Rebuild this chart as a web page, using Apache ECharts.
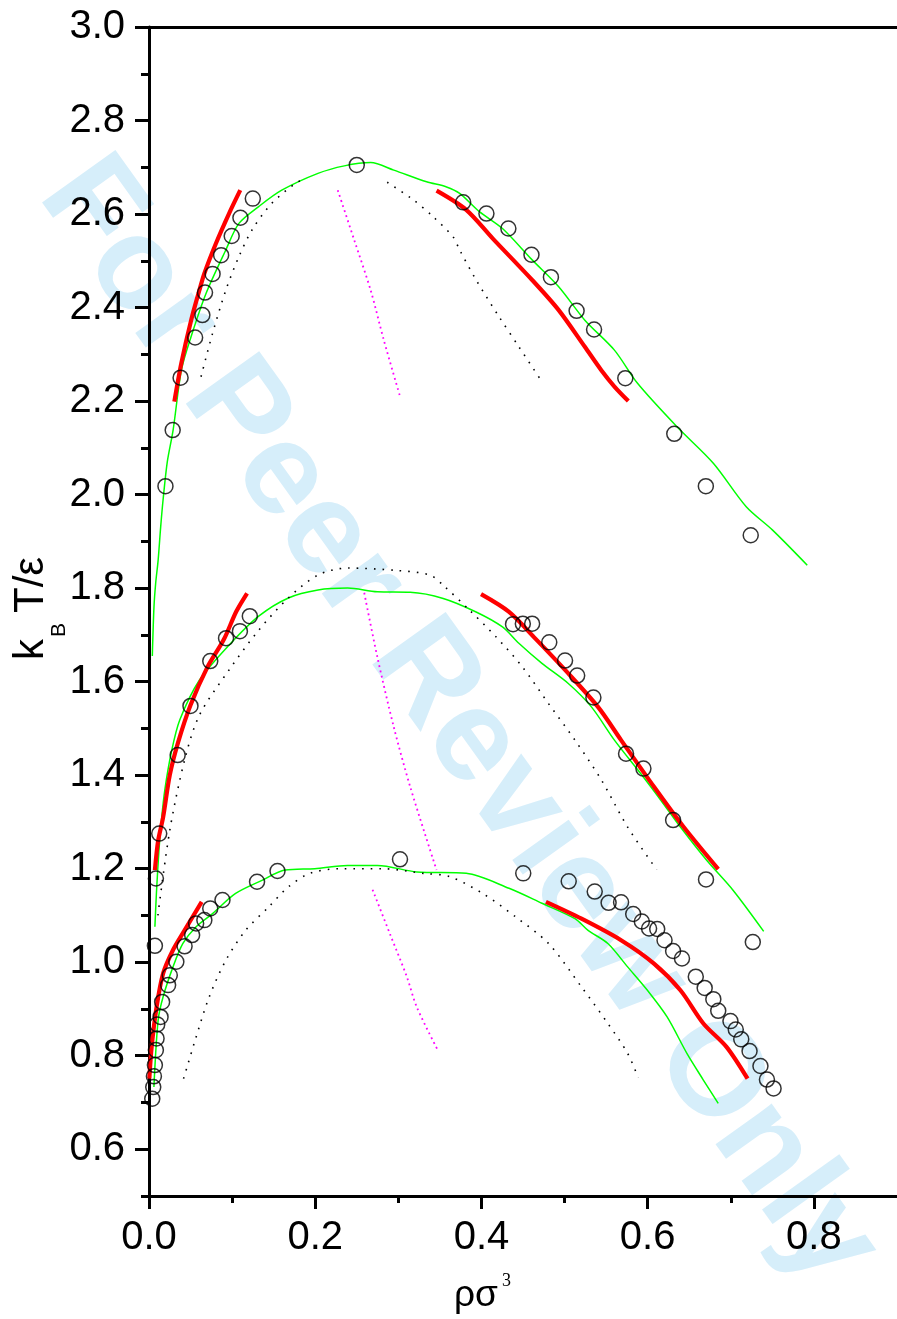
<!DOCTYPE html>
<html><head><meta charset="utf-8">
<script src="https://cdn.jsdelivr.net/npm/echarts@6/dist/echarts.min.js"></script>
<style>html,body{margin:0;padding:0;background:#fff}#c{width:897px;height:1319px}</style>
</head><body><div id="c"></div>
<script>
const xMajor = [0, 0.2, 0.4, 0.6, 0.8];
const xMinor = [0.1, 0.3, 0.5, 0.7];
const yMajor = [0.6, 0.8, 1.0, 1.2, 1.4, 1.6, 1.8, 2.0, 2.2, 2.4, 2.6, 2.8, 3.0];
const yMinor = [0.5, 0.7, 0.9, 1.1, 1.3, 1.5, 1.7, 1.9, 2.1, 2.3, 2.5, 2.7, 2.9];

const circlesTop = [[0.0198,2.018],[0.0285,2.138],[0.038,2.25],[0.0555,2.336],[0.0642,2.384],[0.0674,2.432],[0.0765,2.472],[0.0868,2.512],[0.0995,2.553],[0.110,2.592],[0.1249,2.633],[0.250,2.705],[0.378,2.625],[0.406,2.601],[0.4324,2.569],[0.4602,2.513],[0.4836,2.465],[0.5145,2.393],[0.5355,2.353],[0.5731,2.249],[0.632,2.13],[0.670,2.018],[0.724,1.913]];
const circlesMid = [[0.0083,1.179],[0.0123,1.275],[0.0345,1.443],[0.0499,1.548],[0.0737,1.644],[0.0927,1.693],[0.1094,1.708],[0.1213,1.74],[0.438,1.723],[0.4498,1.724],[0.461,1.724],[0.4816,1.684],[0.5006,1.645],[0.5152,1.613],[0.5347,1.566],[0.574,1.446],[0.5949,1.414],[0.6306,1.304],[0.6702,1.177],[0.7265,1.043]];
const circlesBot = [[0.0039,0.708],[0.0051,0.733],[0.0059,0.756],[0.0071,0.78],[0.0083,0.812],[0.0091,0.837],[0.0099,0.867],[0.0139,0.883],[0.0158,0.915],[0.023,0.951],[0.025,0.972],[0.0329,1.001],[0.0428,1.034],[0.0519,1.058],[0.0567,1.083],[0.0666,1.09],[0.0737,1.115],[0.0884,1.133],[0.13,1.172],[0.1546,1.195],[0.0071,1.035],[0.302,1.22],[0.4503,1.19],[0.505,1.173],[0.5363,1.151],[0.553,1.127],[0.568,1.128],[0.5826,1.103],[0.593,1.087],[0.6017,1.072],[0.6115,1.071],[0.6203,1.047],[0.6306,1.024],[0.6413,1.008],[0.6579,0.969],[0.6686,0.945],[0.679,0.921],[0.6849,0.896],[0.6996,0.874],[0.706,0.856],[0.7126,0.835],[0.7226,0.81],[0.7357,0.778],[0.7435,0.749],[0.7515,0.73]];

const redTopL = [[0.0305,2.199],[0.0389,2.281],[0.0507,2.373],[0.0606,2.437],[0.0666,2.473],[0.0805,2.537],[0.0963,2.601],[0.1098,2.651]];
const redTopR = [[0.346,2.65],[0.3817,2.609],[0.4134,2.548],[0.461,2.459],[0.4927,2.395],[0.5244,2.316],[0.5442,2.266],[0.56,2.231],[0.5767,2.2]];
const redMidL = [[0.0071,1.197],[0.011,1.26],[0.017,1.31],[0.025,1.40],[0.035,1.47],[0.05,1.55],[0.07,1.63],[0.09,1.69],[0.105,1.75],[0.118,1.789]];
const redMidR = [[0.3995,1.787],[0.4332,1.749],[0.4649,1.692],[0.5006,1.625],[0.5402,1.546],[0.568,1.475],[0.6076,1.375],[0.6433,1.289],[0.6849,1.199]];
const redBotL = [[0.0004,0.751],[0.0032,0.819],[0.0091,0.904],[0.017,0.976],[0.0289,1.026],[0.0428,1.068],[0.0634,1.129]];
const redBotR = [[0.4776,1.129],[0.5204,1.093],[0.568,1.047],[0.6076,0.997],[0.6394,0.94],[0.667,0.869],[0.6948,0.819],[0.7202,0.751]];

const greenTop = [[0.004,1.655],[0.006,1.76],[0.008,1.81],[0.011,1.86],[0.014,1.93],[0.017,1.99],[0.022,2.07],[0.029,2.138],[0.039,2.266],[0.0507,2.338],[0.0686,2.43],[0.0924,2.523],[0.1082,2.58],[0.132,2.616],[0.1597,2.651],[0.2033,2.687],[0.235,2.703],[0.2667,2.71],[0.2945,2.694],[0.334,2.669],[0.358,2.658],[0.3738,2.644],[0.3975,2.605],[0.4253,2.569],[0.461,2.502],[0.4927,2.445],[0.5244,2.373],[0.56,2.309],[0.5878,2.238],[0.6353,2.145],[0.679,2.067],[0.7186,1.974],[0.7503,1.924],[0.792,1.849]];
const greenMid = [[0.0071,1.076],[0.009,1.15],[0.012,1.24],[0.015,1.304],[0.019,1.368],[0.027,1.45],[0.037,1.518],[0.0606,1.603],[0.0963,1.678],[0.132,1.74],[0.1677,1.779],[0.2033,1.796],[0.239,1.80],[0.2747,1.792],[0.3143,1.791],[0.354,1.778],[0.3936,1.749],[0.4253,1.717],[0.445,1.682],[0.4728,1.639],[0.5045,1.596],[0.5323,1.546],[0.56,1.475],[0.5918,1.403],[0.6156,1.347],[0.6394,1.289],[0.671,1.218],[0.7027,1.154],[0.7396,1.066]];
const greenBot = [[0.0059,0.733],[0.011,0.876],[0.017,0.926],[0.0289,0.99],[0.0408,1.04],[0.0567,1.076],[0.0765,1.104],[0.1042,1.147],[0.1359,1.175],[0.1637,1.197],[0.1994,1.2],[0.239,1.207],[0.2747,1.207],[0.3222,1.193],[0.3817,1.19],[0.4332,1.158],[0.4728,1.126],[0.5125,1.093],[0.5283,1.068],[0.5521,1.04],[0.5759,0.99],[0.5997,0.94],[0.6234,0.883],[0.6472,0.805],[0.667,0.748],[0.6849,0.698]];

const blackTopL = [[0.0626,2.252],[0.0765,2.345],[0.0924,2.437],[0.1082,2.509],[0.124,2.566],[0.1478,2.623],[0.1795,2.669],[0.19,2.672]];
const blackTopR = [[0.2866,2.668],[0.3183,2.63],[0.342,2.594],[0.3659,2.551],[0.3738,2.523],[0.3936,2.459],[0.4213,2.38],[0.4451,2.316],[0.47,2.249]];
const blackMid = [[0.0107,1.10],[0.025,1.282],[0.0428,1.432],[0.0606,1.528],[0.0963,1.625],[0.132,1.71],[0.1677,1.779],[0.2033,1.828],[0.239,1.843],[0.2965,1.838],[0.338,1.828],[0.354,1.806],[0.3856,1.753],[0.4174,1.696],[0.4491,1.632],[0.4807,1.553],[0.5125,1.475],[0.5442,1.39],[0.5759,1.289],[0.6108,1.198]];
const blackBot = [[0.0416,0.751],[0.0567,0.84],[0.0725,0.926],[0.0924,1.004],[0.1162,1.068],[0.1439,1.118],[0.1677,1.161],[0.1935,1.19],[0.23,1.2],[0.28,1.2],[0.33,1.19],[0.3618,1.183],[0.4015,1.147],[0.4411,1.097],[0.4807,1.04],[0.5204,0.947],[0.5521,0.869],[0.5759,0.805],[0.5886,0.753]];

const magTop = [[0.2271,2.651],[0.247,2.544],[0.2667,2.437],[0.2826,2.33],[0.3024,2.208]];
const magMid = [[0.259,1.79],[0.2747,1.653],[0.2945,1.503],[0.3143,1.375],[0.346,1.197]];
const magBot = [[0.269,1.155],[0.29,1.06],[0.31,0.97],[0.3222,0.904],[0.348,0.81]];

const FONT = 'Liberation Sans, Arial, sans-serif';
const chart = echarts.init(document.getElementById('c'), null, {renderer: 'canvas'});

function line(data, color, width, type, smooth) {
  return {type: 'line', data: data, showSymbol: false, symbol: 'none', smooth: smooth,
    lineStyle: {color: color, width: width, type: type}, z: 3, animation: false, silent: true};
}
const series = [];
[greenTop, greenMid, greenBot].forEach(d => series.push(line(d, '#00ff00', 1.5, 'solid', 0.3)));
[blackTopL, blackTopR, blackMid, blackBot].forEach(d => series.push(line(d, '#000000', 1.6, [1.6, 7], 0.3)));
[magTop, magMid, magBot].forEach(d => series.push(line(d, '#ff00ff', 1.8, [1.8, 3.5], 0.3)));
[redTopL, redTopR, redMidL, redMidR, redBotL, redBotR].forEach(d => series.push(line(d, '#ff0000', 4.2, 'solid', 0.3)));
[circlesTop, circlesMid, circlesBot].forEach(d => series.push({
  type: 'scatter', data: d, symbol: 'circle', symbolSize: 15, z: 4, animation: false, silent: true,
  itemStyle: {color: 'rgba(0,0,0,0)', borderColor: '#000', borderWidth: 1.5}
}));

const valAxisBase = {type: 'value', min: 0, max: 0.9, splitLine: {show: false}};
chart.setOption({
  animation: false,
  backgroundColor: '#ffffff',
  grid: {left: 149, right: -8, top: 27, bottom: 123, containLabel: false},
  xAxis: [
    Object.assign({}, valAxisBase, {position: 'bottom',
      axisLine: {show: true, onZero: false, lineStyle: {color: '#000', width: 3}},
      axisTick: {show: true, customValues: xMajor, length: 13, lineStyle: {color: '#000', width: 3}},
      axisLabel: {show: true, customValues: xMajor, fontSize: 40, fontFamily: FONT, color: '#000', margin: 22,
        formatter: v => v.toFixed(1)}}),
    Object.assign({}, valAxisBase, {position: 'bottom',
      axisLine: {show: false, onZero: false},
      axisTick: {show: true, customValues: xMinor, length: 7, lineStyle: {color: '#000', width: 3}},
      axisLabel: {show: false}}),
    Object.assign({}, valAxisBase, {position: 'top',
      axisLine: {show: true, onZero: false, lineStyle: {color: '#000', width: 3}},
      axisTick: {show: false}, axisLabel: {show: false}})
  ],
  yAxis: [
    {type: 'value', min: 0.5, max: 3.0, position: 'left', splitLine: {show: false},
      axisLine: {show: true, onZero: false, lineStyle: {color: '#000', width: 3}},
      axisTick: {show: true, customValues: yMajor, length: 14, lineStyle: {color: '#000', width: 3}},
      axisLabel: {show: true, customValues: yMajor, fontSize: 40, fontFamily: FONT, color: '#000', margin: 24,
        formatter: v => v.toFixed(1)}},
    {type: 'value', min: 0.5, max: 3.0, position: 'left', splitLine: {show: false},
      axisLine: {show: false, onZero: false},
      axisTick: {show: true, customValues: yMinor, length: 8, lineStyle: {color: '#000', width: 3}},
      axisLabel: {show: false}}
  ],
  graphic: [
    {type: 'text', x: 458, y: 722, rotation: -0.95, z: -10, silent: true,
      style: {text: 'For Peer Review Only', fill: '#d6eefa', font: 'bold 131px ' + FONT,
        align: 'center', verticalAlign: 'middle'}},
    {type: 'group', x: 52, y: 660, rotation: Math.PI / 2, silent: true, children: [
      {type: 'text', x: 0, y: 0, style: {text: 'k', font: '42px ' + FONT, fill: '#000', align: 'left', verticalAlign: 'bottom'}},
      {type: 'text', x: 23, y: -3, style: {text: 'B', font: '21px ' + FONT, fill: '#000', align: 'left', verticalAlign: 'top'}},
      {type: 'text', x: 47, y: 0, style: {text: 'T/ε', font: '42px ' + FONT, fill: '#000', align: 'left', verticalAlign: 'bottom'}}
    ]},
    {type: 'text', x: 454, y: 1296, silent: true,
      style: {text: 'ρσ', font: '37px ' + FONT, fill: '#000', align: 'left', verticalAlign: 'middle'}},
    {type: 'text', x: 502, y: 1272, silent: true,
      style: {text: '3', font: '18px Liberation Serif, Times New Roman, serif', fill: '#000', align: 'left', verticalAlign: 'top'}}
  ],
  series: series
});
</script></body></html>
